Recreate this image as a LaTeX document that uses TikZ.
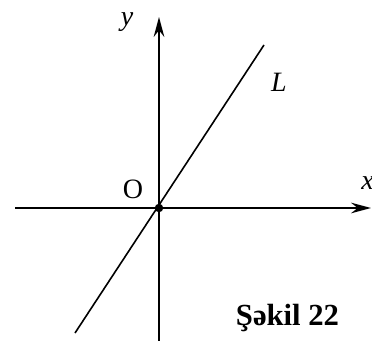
\documentclass[tikz,border=0pt]{standalone}
\usepackage{fontspec}
\setmainfont{Liberation Serif}
\usetikzlibrary{arrows.meta}

\begin{document}
\begin{tikzpicture}[x=0.75pt,y=0.75pt,
  axis/.style={line width=1.3pt,-{Stealth[length=15pt,width=8pt,inset=5pt]}},
  lbl/.style={font=\fontsize{21}{25}\selectfont,inner sep=0pt}]
\useasboundingbox (0,0) rectangle (372,340);

% axes and the line L
\coordinate (o) at (159,132);
\coordinate (xl) at (15,132);
\coordinate (xr) at (371,132);
\coordinate (yb) at (159,-4);
\coordinate (yt) at (159,323);
\coordinate (lb) at (75,7);
\coordinate (lt) at (264,295);
\draw[axis] (xl) -- (xr);
\draw[axis] (yb) -- (yt);
\draw[line width=1.2pt] (lb) -- (lt);
\fill (o) circle (3.2pt);

% labels
\node[lbl] (olabel) at (133,151) {O};
\node[lbl,anchor=west] (xlabel) at (361,157) {\itshape x};
\node[lbl] (ylabel) at (127,318) {\itshape y};
\node[lbl] (llabel) at (279,258) {\itshape L};
\node[lbl,anchor=base,font=\fontsize{23}{27}\selectfont\bfseries] (caption) at (287.5,15) {Şəkil 22};
\end{tikzpicture}
\end{document}
